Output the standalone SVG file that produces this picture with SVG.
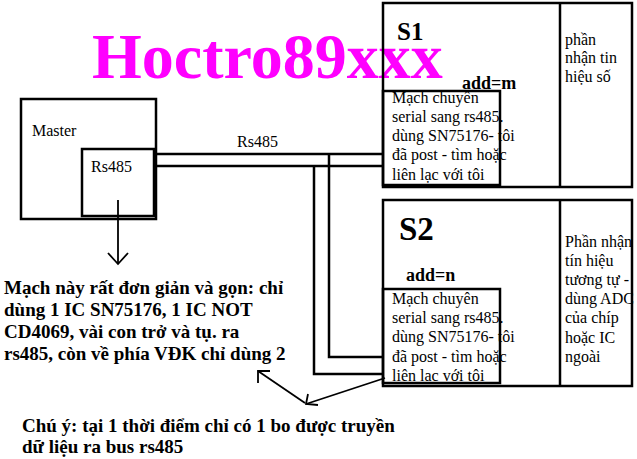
<svg xmlns="http://www.w3.org/2000/svg" width="637" height="459" viewBox="0 0 637 459">
<defs>
<style>
.box{fill:none;stroke:#000;stroke-width:2.5}
.ln{fill:none;stroke:#000;stroke-width:2.5}
.ar{fill:none;stroke:#000;stroke-width:1.8}
.t{font-family:"Liberation Serif","Times New Roman",serif;font-size:16px;fill:#000}
.b{font-family:"Liberation Serif","Times New Roman",serif;font-weight:bold;fill:#000}
</style>
</defs>
<rect x="0" y="0" width="637" height="459" fill="#fff"/>

<text x="92" y="78" class="b" style="font-size:64px;fill:#FF00FF">Hoctro89xxx</text>

<g id="master">
<rect class="box" x="21" y="99" width="135" height="120"/>
<text class="t" x="32" y="136">Master</text>
</g>
<g id="master-rs485">
<rect class="box" x="82" y="149" width="72" height="67"/>
<text class="t" x="91" y="172">Rs485</text>
</g>

<g id="s1">
<rect class="box" x="383" y="3" width="249" height="184"/>
<line class="ln" x1="560" y1="3" x2="560" y2="187"/>
<text class="b" x="397" y="40" style="font-size:25px">S1</text>
<text class="b" x="462" y="89" style="font-size:18px">add=m</text>
<text class="t" x="565" y="45">phần</text>
<text class="t" x="565" y="63">nhận tin</text>
<text class="t" x="565" y="82">hiệu số</text>
</g>
<g id="s1-circuit">
<text class="t" x="392" y="103">Mạch chuyên</text>
<text class="t" x="392" y="122">serial sang rs485.</text>
<text class="t" x="392" y="141">dùng SN75176- tôi</text>
<text class="t" x="392" y="160">đã post - tìm hoặc</text>
<text class="t" x="392" y="180">liên lạc với tôi</text>
<rect class="box" x="383" y="91" width="117" height="94"/>
</g>

<g id="s2">
<rect class="box" x="383" y="200" width="249" height="186"/>
<line class="ln" x1="560" y1="200" x2="560" y2="386"/>
<text class="b" x="399" y="240" style="font-size:33px">S2</text>
<text class="b" x="406" y="281" style="font-size:18px">add=n</text>
<text class="t" x="565" y="247">Phần nhận</text>
<text class="t" x="565" y="266">tín hiệu</text>
<text class="t" x="565" y="285">tương tự -</text>
<text class="t" x="565" y="304">dùng ADC</text>
<text class="t" x="565" y="323">của chíp</text>
<text class="t" x="565" y="343">hoặc IC</text>
<text class="t" x="565" y="362">ngoài</text>
</g>
<g id="s2-circuit">
<text class="t" x="392" y="304">Mạch chuyên</text>
<text class="t" x="392" y="323">serial sang rs485.</text>
<text class="t" x="392" y="342">dùng SN75176- tôi</text>
<text class="t" x="392" y="362">đã post - tìm hoặc</text>
<text class="t" x="392" y="381">liên lạc với tôi</text>
<rect class="box" x="383" y="289" width="117" height="94"/>
</g>

<g id="connectors">
<line class="ln" x1="155" y1="154" x2="383" y2="154"/>
<line class="ln" x1="155" y1="166" x2="383" y2="166"/>
<polyline class="ln" points="329,154 329,357 383,357"/>
<polyline class="ln" points="314,166 314,374 383,374"/>
<text class="t" x="237" y="147">Rs485</text>
<line class="ar" x1="118" y1="200" x2="118" y2="264"/>
<polyline class="ar" points="108,253 118,264 128,253"/>
<line class="ar" x1="385" y1="378" x2="306" y2="404"/>
<polyline class="ar" points="308,394 306,404 318,405"/>
<line class="ar" x1="305" y1="403" x2="258" y2="371"/>
<polyline class="ar" points="270,371 258,371 258,383"/>
</g>

<g id="notes">
<text class="b" x="4" y="294" style="font-size:19px">Mạch này rất đơn giản và gọn: chỉ</text>
<text class="b" x="4" y="316" style="font-size:19px">dùng 1 IC SN75176, 1 IC NOT</text>
<text class="b" x="4" y="338" style="font-size:19px">CD4069, vài con trở và tụ. ra</text>
<text class="b" x="4" y="360" style="font-size:19px">rs485, còn về phía VĐK chỉ dùng 2</text>
<text class="b" x="22" y="432" style="font-size:19px">Chú ý: tại 1 thời điểm chỉ có 1 bo được truyền</text>
<text class="b" x="22" y="453" style="font-size:19px">dữ liệu ra bus rs485</text>
</g>
</svg>
